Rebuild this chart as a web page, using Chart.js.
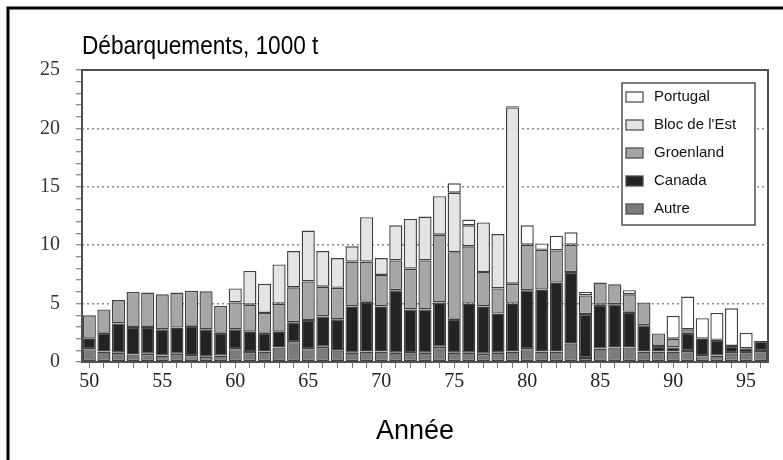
<!DOCTYPE html>
<html><head><meta charset="utf-8">
<script src="https://cdn.jsdelivr.net/npm/chart.js@4.4.0/dist/chart.umd.min.js"></script>
<style>html,body{margin:0;padding:0;background:#fff;}#wrap{width:783px;height:460px;position:relative;}</style>
</head><body><div id="wrap"><canvas id="c" width="783" height="460"></canvas></div>
<script>
const years = [1950,1951,1952,1953,1954,1955,1956,1957,1958,1959,
  1960,1961,1962,1963,1964,1965,1966,1967,1968,1969,
  1970,1971,1972,1973,1974,1975,1976,1977,1978,1979,
  1980,1981,1982,1983,1984,1985,1986,1987,1988,1989,
  1990,1991,1992,1993,1994,1995,1996];
const autre = [1.1,0.9,0.8,0.65,0.7,0.55,0.7,0.5,0.45,0.55,
  1.1,0.85,0.9,1.25,1.7,1.1,1.3,1.0,0.8,0.9,
  0.9,0.8,0.75,0.8,1.3,0.8,0.8,0.7,0.8,0.9,
  1.1,0.9,0.9,1.6,0.35,1.15,1.25,1.25,0.9,0.9,
  0.9,0.95,0.5,0.55,0.75,0.75,0.95];
const canada = [0.9,1.6,2.5,2.35,2.3,2.25,2.25,2.6,2.35,1.95,
  1.7,1.75,1.6,1.35,1.7,2.5,2.6,2.65,3.95,4.25,
  3.85,5.35,3.75,3.7,3.8,2.9,4.2,4.05,3.35,4.1,
  5.05,5.3,5.9,6.1,3.75,3.75,3.7,3.05,2.25,0.47,
  0.35,1.55,1.5,1.35,0.62,0.42,0.85];
const groenland = [2.0,2.0,2.0,3.0,2.95,3.0,3.0,3.0,3.25,2.3,
  2.3,2.3,1.7,2.4,3.0,3.3,2.55,2.7,3.85,3.45,
  2.7,2.55,3.5,4.2,5.8,5.7,4.9,2.95,2.15,1.7,
  3.9,3.4,2.75,2.35,1.6,1.9,1.7,1.5,1.95,1.08,
  0.75,0.3,0,0,0,0,0];
const blocEst = [0,0,0,0,0,0,0,0,0,0,
  1.2,2.9,2.5,3.35,3.1,4.35,3.05,2.55,1.3,3.8,
  1.45,3.0,4.25,3.75,3.3,5.1,1.8,4.25,4.65,15.1,
  0,0,0,0,0,0,0,0,0,0,
  0,0,0,0,0,0,0];
const portugal = [0,0,0,0,0,0,0,0,0,0,
  0,0,0,0,0,0,0,0,0,0,
  0,0,0,0,0,0.8,0.5,0,0,0.1,
  1.65,0.55,1.25,1.05,0.3,0,0,0.35,0,0,
  1.95,2.8,1.75,2.3,3.23,1.33,0];
const yMax = 25;
const yMajorStep = 5;
const xLabelStep = 5;

const serif = "'Liberation Serif', 'DejaVu Serif', serif";
const sans = "'Liberation Sans', Arial, sans-serif";
const edge = '#404040';

function ds(label, data, color){
  return {label, data, backgroundColor: color, borderColor: edge, borderWidth: 1.4,
    borderSkipped: false, barPercentage: 0.9, categoryPercentage: 1.0};
}

const framePlugin = {
  id: 'frame',
  afterDatasetsDraw(chart){
    const {ctx, chartArea: a} = chart;
    ctx.save();
    ctx.strokeStyle = '#505050';
    ctx.lineWidth = 2;
    ctx.strokeRect(a.left, a.top, a.right - a.left, a.bottom - a.top);
    ctx.restore();
  },
  afterDraw(chart){
    const {ctx, chartArea: a} = chart;
    ctx.save();
    // outer black frame (left and top)
    ctx.strokeStyle = '#000';
    ctx.lineWidth = 3;
    ctx.beginPath();
    ctx.moveTo(8, chart.height);
    ctx.lineTo(8, 8);
    ctx.lineTo(chart.width, 8);
    ctx.stroke();
    // title (slightly condensed like the original)
    ctx.fillStyle = '#000';
    ctx.textBaseline = 'middle';
    ctx.textAlign = 'left';
    ctx.save();
    ctx.translate(a.left, a.top - 23);
    ctx.scale(0.87, 1);
    ctx.font = "26px " + sans;
    ctx.fillText('Débarquements, 1000 t', 0, 0);
    ctx.restore();
    // x axis title
    ctx.textAlign = 'center';
    ctx.font = "27px " + sans;
    ctx.fillText('Année', (a.left + a.right) / 2 - 10, a.bottom + 70);
    // legend
    ctx.textAlign = 'left';
    const items = chart.data.datasets.slice().reverse();
    const bx = a.right - 146, by = a.top + 13, bw = 133, bh = 142;
    ctx.fillStyle = '#fff';
    ctx.fillRect(bx, by, bw, bh);
    ctx.strokeStyle = '#505050';
    ctx.lineWidth = 1.5;
    ctx.strokeRect(bx, by, bw, bh);
    ctx.font = "15px " + sans;
    items.forEach((d, i) => {
      const cy = by + 14 + i * 28;
      ctx.fillStyle = d.backgroundColor;
      ctx.fillRect(bx + 4, cy - 5, 17, 10);
      ctx.strokeStyle = '#505050';
      ctx.lineWidth = 1.3;
      ctx.strokeRect(bx + 4, cy - 5, 17, 10);
      ctx.fillStyle = '#111';
      ctx.fillText(d.label, bx + 32, cy);
    });
    ctx.restore();
  }
};

new Chart(document.getElementById('c'), {
  type: 'bar',
  data: {
    labels: years,
    datasets: [
      ds('Autre', autre, '#7a7a7a'),
      ds('Canada', canada, '#232323'),
      ds('Groenland', groenland, '#a6a6a6'),
      ds("Bloc de l'Est", blocEst, '#e4e4e4'),
      ds('Portugal', portugal, '#ffffff')
    ]
  },
  options: {
    responsive: false,
    animation: false,
    devicePixelRatio: 1,
    layout: {padding: {top: 70, right: 15, left: 0, bottom: 0}},
    plugins: {legend: {display: false}, title: {display: false}, tooltip: {enabled: false}},
    scales: {
      x: {
        stacked: true,
        afterFit(s){ s.height = 98; },
        border: {display: false},
        grid: {display: true, drawOnChartArea: false, offset: false, tickLength: 6, tickColor: '#777', tickWidth: 1},
        ticks: {
          autoSkip: false, maxRotation: 0, minRotation: 0, padding: 2,
          color: '#222', font: {family: serif, size: 20},
          callback(v, i){ const y = years[i]; return y % xLabelStep === 0 ? String(y).slice(2) : ''; }
        }
      },
      y: {
        stacked: true,
        min: 0, max: yMax,
        afterFit(s){ s.width = 82; },
        border: {display: false, dash: [2, 3]},
        grid: {
          color(c){ const v = c.tick && c.tick.value; return (v % yMajorStep === 0 && v > 0 && v < yMax) ? '#8a8a8a' : 'rgba(0,0,0,0)'; },
          lineWidth: 1.5, tickBorderDash: [], tickLength: 6, tickColor: '#666', tickWidth: 1
        },
        ticks: {
          stepSize: 1, autoSkip: false, padding: 16, color: '#333', font: {family: serif, size: 20},
          callback(v){ return v % yMajorStep === 0 ? String(v) : ''; }
        }
      }
    }
  },
  plugins: [framePlugin]
});
</script></body></html>
